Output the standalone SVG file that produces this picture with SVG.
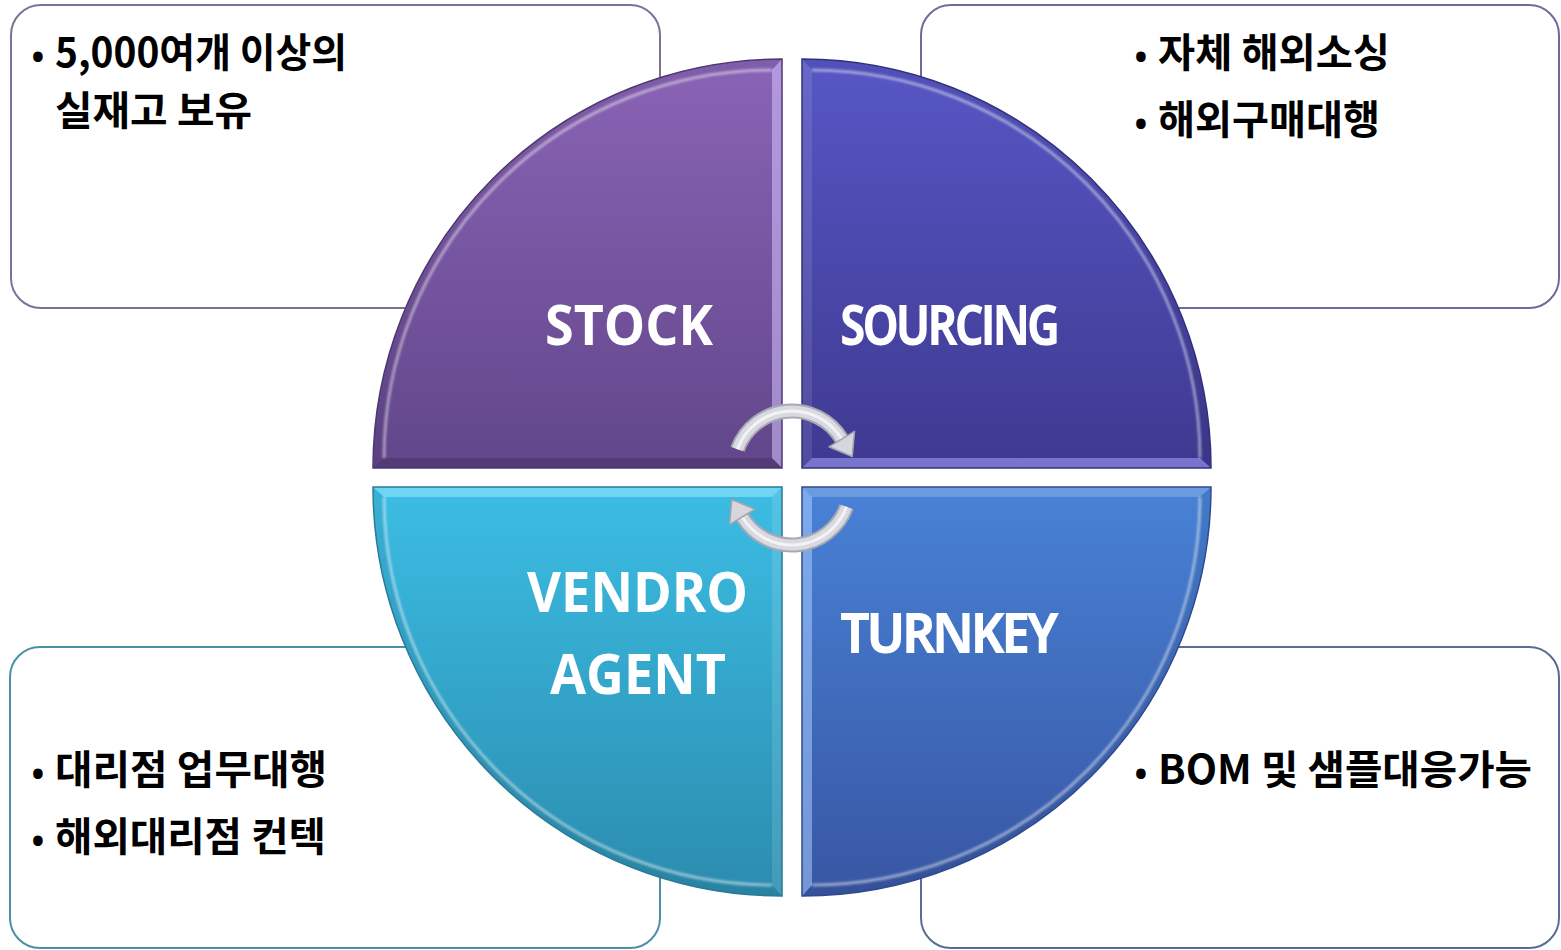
<svg xmlns="http://www.w3.org/2000/svg" width="1561" height="950" viewBox="0 0 1561 950">
<defs>
<style>
.box{fill:#ffffff;stroke-width:2}
.bt{font-family:'Noto Sans CJK KR','Noto Sans',sans-serif;font-weight:700;font-size:40px;fill:#000}
.bul{font-family:'Noto Sans','DejaVu Sans',sans-serif;font-weight:700;font-size:34px;fill:#000;text-anchor:middle}
.lab{font-family:'Open Sans','Noto Sans',sans-serif;font-weight:700;font-size:55px;fill:#ffffff}
.edge{fill:none;stroke-width:1.5}
.hl{fill:none;stroke:#ffffff;stroke-opacity:0.45;stroke-width:3;filter:url(#soft)}
.arcband{fill:#000;fill-opacity:0.06}
</style>
<filter id="soft" x="-5%" y="-5%" width="110%" height="110%"><feGaussianBlur stdDeviation="1.2"/></filter>
<linearGradient id="gStock" x1="0" y1="59" x2="0" y2="468" gradientUnits="userSpaceOnUse"><stop offset="0" stop-color="#8a64b6"/><stop offset="1" stop-color="#61468a"/></linearGradient>
<linearGradient id="gSourcing" x1="0" y1="59" x2="0" y2="468" gradientUnits="userSpaceOnUse"><stop offset="0" stop-color="#5757c6"/><stop offset="1" stop-color="#3e3990"/></linearGradient>
<linearGradient id="gVendro" x1="0" y1="487" x2="0" y2="896" gradientUnits="userSpaceOnUse"><stop offset="0" stop-color="#3cbde4"/><stop offset="1" stop-color="#2b8cae"/></linearGradient>
<linearGradient id="gTurnkey" x1="0" y1="487" x2="0" y2="896" gradientUnits="userSpaceOnUse"><stop offset="0" stop-color="#4882d6"/><stop offset="1" stop-color="#3856a3"/></linearGradient>
</defs>
<rect width="1561" height="950" fill="#ffffff"/>

<g id="box-stock"><rect class="box" x="11" y="5" width="649" height="303" rx="30" stroke="#7c7199"/></g>
<g id="box-sourcing"><rect class="box" x="921" y="5" width="638" height="303" rx="30" stroke="#6f6a9c"/></g>
<g id="box-vendro"><rect class="box" x="10" y="647" width="650" height="301" rx="30" stroke="#4c8fa6"/></g>
<g id="box-turnkey"><rect class="box" x="921" y="647" width="638" height="301" rx="30" stroke="#5b6b98"/></g>

<g id="node-stock">
<path d="M782,468 L373,468 A409,409 0 0 1 782,59 Z" fill="url(#gStock)"/>
<path class="arcband" d="M373,468 A409,409 0 0 1 782,59 L772,70 A388,388 0 0 0 384,458 Z"/>
<path d="M782,59 L782,468 L772,458 L772,70 Z" fill="#d6c2ff" fill-opacity="0.55"/>
<path d="M373,468 L782,468 L772,458 L384,458 Z" fill="#000" fill-opacity="0.15"/>
<path class="hl" d="M384,458 A388,388 0 0 1 772,70"/>
<path class="edge" d="M782,468 L373,468 A409,409 0 0 1 782,59 Z" stroke="#4d3872"/>
<text class="lab" x="545" y="345" textLength="168" lengthAdjust="spacingAndGlyphs">STOCK</text>
</g>

<g id="node-sourcing">
<path d="M802,468 L802,59 A409,409 0 0 1 1211,468 Z" fill="url(#gSourcing)"/>
<path class="arcband" d="M802,59 A409,409 0 0 1 1211,468 L1200,458 A388,388 0 0 0 812,70 Z"/>
<path d="M802,59 L802,468 L812,458 L812,70 Z" fill="#ffffff" fill-opacity="0.1"/>
<path d="M802,468 L1211,468 L1200,458 L812,458 Z" fill="#a8a6ff" fill-opacity="0.55"/>
<path class="hl" d="M812,70 A388,388 0 0 1 1200,458"/>
<path class="edge" d="M802,468 L802,59 A409,409 0 0 1 1211,468 Z" stroke="#33307a"/>
<text class="lab" x="840" y="345" textLength="217" lengthAdjust="spacingAndGlyphs" letter-spacing="-4">SOURCING</text>
</g>

<g id="node-vendro">
<path d="M782,487 L782,896 A409,409 0 0 1 373,487 Z" fill="url(#gVendro)"/>
<path class="arcband" d="M782,896 A409,409 0 0 1 373,487 L384,497 A388,388 0 0 0 772,885 Z"/>
<path d="M373,487 L782,487 L772,497 L384,497 Z" fill="#9aeaff" fill-opacity="0.55"/>
<path d="M782,487 L782,896 L772,885 L772,497 Z" fill="#ffffff" fill-opacity="0.12"/>
<path class="hl" d="M772,885 A388,388 0 0 1 384,497"/>
<path class="edge" d="M782,487 L782,896 A409,409 0 0 1 373,487 Z" stroke="#2a7a96"/>
<text class="lab" x="527" y="612" textLength="221" lengthAdjust="spacingAndGlyphs">VENDRO</text>
<text class="lab" x="550" y="694" textLength="176" lengthAdjust="spacingAndGlyphs">AGENT</text>
</g>

<g id="node-turnkey">
<path d="M802,487 L1211,487 A409,409 0 0 1 802,896 Z" fill="url(#gTurnkey)"/>
<path class="arcband" d="M1211,487 A409,409 0 0 1 802,896 L812,885 A388,388 0 0 0 1200,497 Z"/>
<path d="M802,487 L802,896 L812,885 L812,497 Z" fill="#a8ccff" fill-opacity="0.55"/>
<path d="M802,487 L1211,487 L1200,497 L812,497 Z" fill="#ffffff" fill-opacity="0.2"/>
<path class="hl" d="M1200,497 A388,388 0 0 1 812,885"/>
<path class="edge" d="M802,487 L1211,487 A409,409 0 0 1 802,896 Z" stroke="#2f4a8e"/>
<text class="lab" x="840" y="653" textLength="215" lengthAdjust="spacingAndGlyphs" letter-spacing="-4">TURNKEY</text>
</g>

<g id="connectors">
<g id="arrow-top">
<path d="M737.5,449.2 A58,58 0 0 1 841.7,439.1" fill="none" stroke="#a9a9b4" stroke-width="15"/>
<path d="M737.5,449.2 A58,58 0 0 1 841.7,439.1" fill="none" stroke="#d9d9e1" stroke-width="11"/>
<path d="M737.5,449.2 A58,58 0 0 1 841.7,439.1" fill="none" stroke="#f3f3f7" stroke-width="3"/>
<polygon points="854.5,431.4 852.2,456.5 828.9,446.8" fill="#d6d6de" stroke="#a3a3ae" stroke-width="1.5" stroke-linejoin="round"/>
</g>
<g id="arrow-bottom" transform="rotate(180 792 478)">
<path d="M737.5,449.2 A58,58 0 0 1 841.7,439.1" fill="none" stroke="#a9a9b4" stroke-width="15"/>
<path d="M737.5,449.2 A58,58 0 0 1 841.7,439.1" fill="none" stroke="#d9d9e1" stroke-width="11"/>
<path d="M737.5,449.2 A58,58 0 0 1 841.7,439.1" fill="none" stroke="#f3f3f7" stroke-width="3"/>
<polygon points="854.5,431.4 852.2,456.5 828.9,446.8" fill="#d6d6de" stroke="#a3a3ae" stroke-width="1.5" stroke-linejoin="round"/>
</g>
</g>

<g id="text-stock">
<text class="bul" x="38" y="69">•</text>
<text class="bt" x="55" y="67" textLength="292" lengthAdjust="spacingAndGlyphs">5,000여개 이상의</text>
<text class="bt" x="55" y="125" textLength="197" lengthAdjust="spacingAndGlyphs">실재고 보유</text>
</g>
<g id="text-sourcing">
<text class="bul" x="1141" y="69">•</text>
<text class="bt" x="1158" y="67" textLength="232" lengthAdjust="spacingAndGlyphs">자체 해외소싱</text>
<text class="bul" x="1141" y="136">•</text>
<text class="bt" x="1158" y="134" textLength="222" lengthAdjust="spacingAndGlyphs">해외구매대행</text>
</g>
<g id="text-vendro">
<text class="bul" x="38" y="786">•</text>
<text class="bt" x="55" y="784" textLength="272" lengthAdjust="spacingAndGlyphs">대리점 업무대행</text>
<text class="bul" x="38" y="853">•</text>
<text class="bt" x="55" y="851" textLength="271" lengthAdjust="spacingAndGlyphs">해외대리점 컨텍</text>
</g>
<g id="text-turnkey">
<text class="bul" x="1141" y="786">•</text>
<text class="bt" x="1158" y="784" textLength="374" lengthAdjust="spacingAndGlyphs">BOM 및 샘플대응가능</text>
</g>
</svg>
